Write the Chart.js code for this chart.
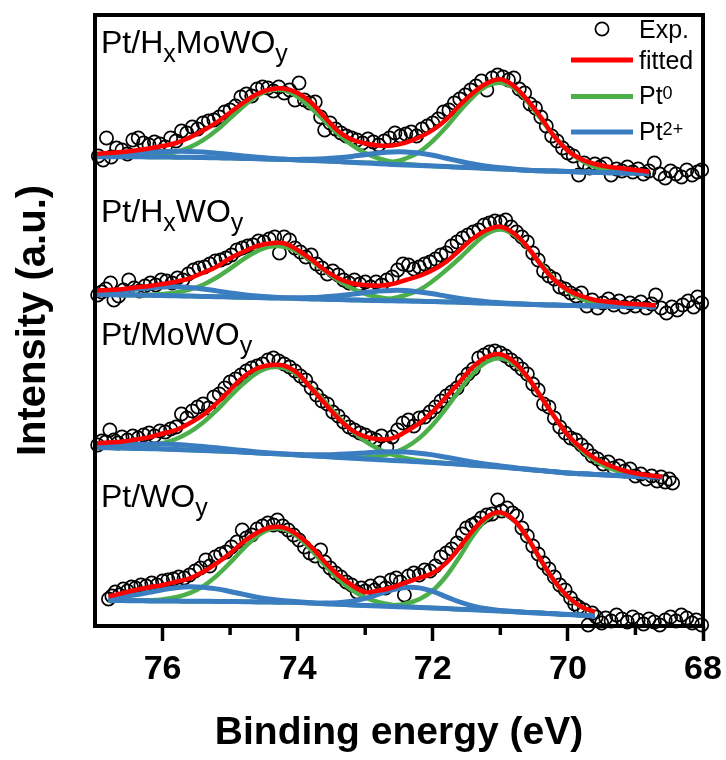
<!DOCTYPE html>
<html>
<head>
<meta charset="utf-8">
<script src="https://cdn.jsdelivr.net/npm/chart.js@4.4.1/dist/chart.umd.min.js"></script>
<style>
  html, body { margin: 0; padding: 0; background: #fff; }
  #wrap { width: 726px; height: 760px; }
</style>
</head>
<body>
<div id="wrap"><canvas id="c" width="726" height="760"></canvas></div>
<script>
// ---------------- data (binding energy in eV, intensity in a.u. with stacking offsets) ----------------
const xTickValues = [68, 70, 72, 74, 76];
const minorTickValues = [69, 71, 73, 75];
const legendNames = ['Exp.', 'fitted', 'Pt', 'Pt'];
const legendSups = ['', '', '0', '2+'];
const sampleNames = [
  [['Pt/H', 0], ['x', -1], ['MoWO', 0], ['y', -1]],
  [['Pt/H', 0], ['x', -1], ['WO', 0], ['y', -1]],
  [['Pt/MoWO', 0], ['y', -1]],
  [['Pt/WO', 0], ['y', -1]]
];
const sampleLabelY = [573, 404, 281, 119];

// ---- panel 1 : Pt/HxMoWOy ----
const p1Energy = [77.0,76.8,76.6,76.4,76.2,76.0,75.8,75.6,75.4,75.2,75.0,74.8,74.6,74.4,74.2,74.0,73.8,73.6,73.4,73.2,73.0,72.8,72.6,72.4,72.2,72.0,71.8,71.6,71.4,71.2,71.0,70.8,70.6,70.4,70.2,70.0,69.8,69.6,69.4,69.2,69.0,68.8];
const p1Fitted = [472,473,474,475.5,477.5,480,483,488.5,495.5,503.5,513.5,523.5,532,536.7,537.5,533,523.5,509,495,486.5,482.7,480.4,480.5,483.3,488.7,496,506.7,521,533.3,542.7,546.7,540,526,508.7,489.3,475.3,466.7,462,459.3,457.7,456,454.3];
const p1Pt0a = [469.3,469.3,469.2,469.6,470.2,471.5,474.0,478.6,485.9,495.7,507.8,520.0,530.3,536.0,535.6,529.1,517.9,504.8,491.9,481.1,472.9,467.5,464.1,462.1,460.9,460.0,459.4,458.8,458.2,457.6,457.0,456.4,455.8,455.2,454.9,454.5,454.1,453.7,453.3,453.1,453.0,452.7];
const p1Pt0b = [469.3,469.3,469.2,469.2,469.1,469.0,468.8,468.7,468.5,468.2,468.0,467.6,467.2,466.8,466.4,466.0,465.5,465.0,464.4,463.7,463.3,463.0,464.0,467.5,474.0,485.0,499.0,515.0,529.5,540.0,543.3,538.0,524.6,507.1,489.8,475.5,465.3,459.1,455.6,454.0,453.3,452.8];
const p1Pt2a = [470.3,470.9,471.7,472.7,473.7,474.4,474.7,474.6,473.9,472.8,471.5,470.1,468.8,467.8,466.9,466.0,465.5,465.0,464.4,463.7,463.0,462.3,461.6,461.0,460.5,460.0,459.4,458.8,458.2,457.6,457.0,456.4,455.8,455.2,454.9,454.5,454.1,453.7,453.3,453.1,453.0,452.7];
const p1Pt2b = [469.3,469.3,469.2,469.2,469.1,469.0,468.8,468.7,468.5,468.2,468.0,467.6,467.2,466.8,466.4,466.6,466.7,467.2,468.2,469.6,471.3,473.0,474.0,474.0,472.9,470.7,467.7,464.7,462.0,459.8,458.2,457.0,455.8,455.2,454.9,454.5,454.1,453.7,453.3,453.1,453.0,452.7];
const p1Exp = [[76.95,470],[76.88,466],[76.83,488],[76.76,469],[76.68,478],[76.6,476],[76.52,472],[76.44,486],[76.36,488],[76.28,483],[76.2,481],[76.12,484],[76.04,482],[75.96,479],[75.88,488],[75.8,485],[75.72,495],[75.64,493],[75.56,499],[75.48,497],[75.4,503],[75.32,505],[75.24,506],[75.16,509],[75.08,514],[75.0,516],[74.92,520],[74.84,529],[74.76,532],[74.68,530],[74.6,537],[74.52,539],[74.44,538],[74.36,535],[74.28,539],[74.2,533],[74.12,536],[74.04,526],[73.98,543],[73.9,526],[73.82,523],[73.74,524],[73.66,509],[73.6,496],[73.52,503],[73.44,497],[73.36,493],[73.28,490],[73.2,488],[73.12,486],[73.04,483],[72.96,487],[72.88,484],[72.8,481],[72.72,485],[72.64,488],[72.56,493],[72.48,490],[72.4,492],[72.32,494],[72.24,490],[72.16,497],[72.08,500],[72.0,503],[71.92,507],[71.84,514],[71.76,516],[71.68,523],[71.6,527],[71.52,531],[71.44,536],[71.36,540],[71.28,545],[71.2,536],[71.12,548],[71.04,551],[70.96,549],[70.88,546],[70.8,548],[70.72,537],[70.64,533],[70.56,522],[70.48,518],[70.4,509],[70.32,500],[70.24,490],[70.16,485],[70.08,478],[70.0,473],[69.92,470],[69.84,451],[69.76,463],[69.68,458],[69.6,462],[69.52,459],[69.44,462],[69.36,451],[69.28,457],[69.2,455],[69.12,459],[69.04,454],[68.96,457],[68.88,452],[68.8,455],[68.72,463],[68.64,452],[68.56,448],[68.48,455],[68.4,452],[68.32,449],[68.24,456],[68.16,451],[68.08,454],[68.02,456]];

// ---- panel 2 : Pt/HxWOy ----
const p2Energy = [77.0,76.8,76.6,76.4,76.2,76.0,75.8,75.6,75.4,75.2,75.0,74.8,74.6,74.4,74.2,74.0,73.8,73.6,73.4,73.2,73.0,72.8,72.6,72.4,72.2,72.0,71.8,71.6,71.4,71.2,71.0,70.8,70.6,70.4,70.2,70.0,69.8,69.6,69.4,69.2,69.0,68.8,68.7];
const p2Fitted = [335.3,336,336.7,338.5,340,342,344.3,347.7,353.3,359.3,367.7,374.3,380,382.7,382.7,376,366.7,356,347.7,342.7,341,340.3,342,346,350,356,364.3,376,387.7,396,399.3,392.7,379.3,361,346,336,330,326,324.3,322.7,322,321,320.8];
const p2Pt0a = [331.5,331.3,331.1,331.1,331.3,332.0,333.5,336.4,341.3,348.5,357.4,366.9,374.9,379.5,379.2,374.0,365.3,355.2,345.6,337.8,332.2,328.8,326.7,325.6,324.9,324.5,324.1,323.7,323.3,322.9,322.5,322.1,321.7,321.3,320.9,320.5,320.3,320.1,319.9,319.7,319.5,319.4,319.3];
const p2Pt0b = [331.5,331.3,331.1,330.9,330.7,330.5,330.2,329.9,329.6,329.3,329.0,328.7,328.4,328.1,327.8,327.5,327.1,326.8,326.4,326.1,325.7,326.2,327.5,331.0,336.0,345.0,356.0,368.0,381.0,392.2,396.5,391.4,378.6,362.3,346.8,334.9,327.3,323.1,321.0,320.1,319.7,319.5,319.4];
const p2Pt2a = [333.0,333.9,335.2,336.7,338.1,339.1,339.2,338.5,337.0,335.1,333.1,331.3,329.9,328.9,328.2,327.5,327.1,326.8,326.4,326.1,325.7,325.5,325.2,325.0,324.7,324.5,324.1,323.7,323.3,322.9,322.5,322.1,321.7,321.3,320.9,320.5,320.3,320.1,319.9,319.7,319.5,319.4,319.3];
const p2Pt2b = [331.5,331.3,331.1,330.9,330.7,330.5,330.2,329.9,329.6,329.3,329.0,328.7,328.4,328.1,328.1,328.2,328.4,329.2,330.3,331.8,333.4,334.9,335.6,335.4,334.1,332.2,329.8,327.6,325.7,324.2,323.2,322.4,321.7,321.3,320.9,320.5,320.3,320.1,319.9,319.7,319.5,319.4,319.3];
const p2Exp = [[76.96,331],[76.9,334],[76.84,337],[76.77,343],[76.72,326],[76.65,330],[76.58,336],[76.5,346],[76.42,338],[76.34,335],[76.26,340],[76.18,343],[76.1,341],[76.02,346],[75.94,345],[75.86,343],[75.78,348],[75.7,346],[75.62,352],[75.54,356],[75.46,358],[75.38,359],[75.3,362],[75.22,365],[75.14,366],[75.06,368],[74.98,371],[74.9,376],[74.82,378],[74.74,380],[74.66,381],[74.58,385],[74.5,384],[74.42,387],[74.34,389],[74.27,373],[74.2,389],[74.12,386],[74.04,378],[73.96,374],[73.88,369],[73.8,371],[73.72,362],[73.64,358],[73.56,352],[73.48,355],[73.4,351],[73.32,346],[73.24,343],[73.16,346],[73.08,342],[73.0,344],[72.92,339],[72.84,344],[72.76,341],[72.68,346],[72.6,349],[72.52,356],[72.44,362],[72.36,361],[72.28,357],[72.2,359],[72.12,362],[72.04,364],[71.96,367],[71.88,371],[71.8,373],[71.72,380],[71.64,384],[71.56,388],[71.48,391],[71.4,394],[71.32,396],[71.24,401],[71.16,403],[71.08,405],[71.0,404],[70.92,406],[70.84,399],[70.76,394],[70.68,389],[70.6,384],[70.52,373],[70.44,366],[70.36,355],[70.28,350],[70.2,347],[70.12,339],[70.04,337],[69.96,333],[69.88,330],[69.8,333],[69.72,320],[69.64,326],[69.56,318],[69.48,323],[69.4,327],[69.32,321],[69.24,325],[69.16,319],[69.08,323],[69.0,320],[68.92,324],[68.84,318],[68.76,322],[68.7,331],[68.62,318],[68.54,313],[68.46,319],[68.38,316],[68.3,321],[68.22,325],[68.14,319],[68.08,329],[68.02,323]];

// ---- panel 3 : Pt/MoWOy ----
const p3Energy = [77.0,76.8,76.6,76.4,76.2,76.0,75.8,75.6,75.4,75.2,75.0,74.8,74.6,74.4,74.2,74.0,73.8,73.6,73.4,73.2,73.0,72.8,72.6,72.4,72.2,72.0,71.8,71.6,71.4,71.2,71.0,70.8,70.6,70.4,70.2,70.0,69.8,69.6,69.4,69.2,69.0,68.8,68.6];
const p3Fitted = [182.7,183.5,184.3,186.5,188.7,192.5,196,202.7,211,222.7,236,249.3,257.7,261,260.3,252.7,237.7,222.7,207.7,196,189.3,186.7,187.7,194.3,202.7,214.3,229.3,244.3,259.3,269.3,271.7,264.3,249.3,229.3,209.3,191,177.7,167.7,161,156,152.7,150.7,149.3];
const p3Pt0a = [178.5,178.5,178.5,179.0,180.2,182.8,187.0,193.8,203.5,215.7,229.5,242.6,253.1,258.6,257.9,251.0,239.0,224.4,209.3,195.8,184.8,176.8,171.4,167.8,165.6,164.1,162.9,161.7,160.8,159.9,159.0,157.8,156.6,155.4,154.2,153.0,152.3,151.6,150.9,150.2,149.5,149.3,149.0];
const p3Pt0b = [178.5,178.2,177.9,177.6,177.3,177.0,176.5,176.0,175.5,175.0,174.5,173.8,173.1,172.4,171.7,171.0,170.2,169.4,168.9,168.5,168.6,169.8,172.9,178.6,187.9,201.3,217.9,236.1,252.7,264.1,267.7,262.0,248.5,229.8,209.5,190.8,176.0,165.3,158.2,153.7,151.1,149.9,149.25];
const p3Pt2a = [180.1,180.5,181.1,181.6,181.9,182.0,181.5,180.6,179.5,178.2,176.8,175.4,174.1,173.0,172.0,171.0,170.2,169.4,168.6,167.8,167.0,166.3,165.6,164.9,164.2,163.5,162.6,161.7,160.8,159.9,159.0,157.8,156.6,155.4,154.2,153.0,152.3,151.6,150.9,150.2,149.5,149.3,149.0];
const p3Pt2b = [178.5,178.2,177.9,177.6,177.3,177.0,176.5,176.0,175.5,175.0,174.5,173.8,173.1,172.4,172.0,171.6,171.3,171.3,171.7,172.3,173.1,173.9,174.2,173.9,172.8,171.1,168.7,166.2,163.9,161.8,160.1,158.4,156.9,155.4,154.2,153.0,152.3,151.6,150.9,150.2,149.5,149.3,149.0];
const p3Exp = [[76.96,181],[76.9,185],[76.84,184],[76.78,196],[76.72,186],[76.66,183],[76.6,189],[76.52,186],[76.44,190],[76.36,188],[76.28,191],[76.2,193],[76.12,190],[76.04,195],[75.96,194],[75.88,197],[75.8,199],[75.72,212],[75.64,208],[75.56,215],[75.48,219],[75.4,222],[75.32,218],[75.24,229],[75.16,232],[75.08,238],[75.0,244],[74.92,247],[74.84,251],[74.76,255],[74.68,258],[74.6,260],[74.52,262],[74.44,266],[74.36,268],[74.28,265],[74.2,262],[74.12,259],[74.04,255],[73.96,250],[73.88,246],[73.8,238],[73.72,231],[73.64,225],[73.56,222],[73.48,214],[73.4,210],[73.32,204],[73.24,199],[73.16,196],[73.08,193],[73.0,191],[72.92,188],[72.84,186],[72.76,190],[72.68,179],[72.6,189],[72.52,196],[72.44,203],[72.36,206],[72.28,200],[72.2,208],[72.12,209],[72.04,214],[71.96,219],[71.88,225],[71.8,230],[71.72,234],[71.64,238],[71.56,246],[71.48,252],[71.4,257],[71.32,268],[71.24,271],[71.16,274],[71.08,275],[71.0,273],[70.92,270],[70.84,266],[70.76,262],[70.68,257],[70.6,252],[70.52,242],[70.44,236],[70.36,222],[70.28,219],[70.2,208],[70.12,199],[70.04,193],[69.96,188],[69.88,186],[69.8,181],[69.72,176],[69.64,170],[69.56,167],[69.48,162],[69.4,164],[69.32,158],[69.24,160],[69.16,155],[69.08,157],[69.0,150],[68.92,152],[68.84,147],[68.76,150],[68.68,145],[68.62,149],[68.56,144],[68.5,147],[68.45,143]];

// ---- panel 4 : Pt/WOy ----
const p4Energy = [76.8,76.6,76.4,76.2,76.0,75.8,75.6,75.4,75.2,75.0,74.8,74.6,74.4,74.2,74.0,73.8,73.6,73.4,73.2,73.0,72.8,72.6,72.4,72.2,72.0,71.8,71.6,71.4,71.2,71.0,70.8,70.6,70.4,70.2,70.0,69.8,69.6];
const p4Fitted = [29.5,32.7,36,38.7,41,44.3,47.7,54.3,62.7,72.7,84.3,93.3,98.7,98.3,91,79.3,64.3,51,41,34,35.5,38.5,43.5,48,53,63,79,96,109,113.6,106,88.5,66,45,29.3,19.2,14.2];
const p4Pt0a = [25.5,25.4,25.45,25.7,26.6,28.7,32.8,39.7,50.1,63.3,77.5,89.8,96.9,96.7,89.2,76.1,61.1,47.2,36.1,28.5,23.8,21.1,19.6,18.7,18.0,17.4,16.8,16.2,15.6,15.0,14.3,13.6,12.9,12.2,11.5,10.8,10.0];
const p4Pt0b = [25.5,25.4,25.25,25.1,25.0,24.9,24.8,24.7,24.6,24.5,24.3,24.1,23.9,23.7,23.5,22.9,22.3,21.7,21.1,20.5,20.4,20.7,22.4,26.7,35.5,50.0,69.6,90.7,107.1,113.0,105.8,88.1,65.7,44.8,29.0,19.0,13.9];
const p4Pt2a = [27.6,29.1,31.25,33.7,36.3,38.3,39.3,38.8,37.1,34.5,31.6,28.9,26.7,25.2,24.3,23.2,22.3,21.7,21.1,20.5,20.0,19.5,19.0,18.5,18.0,17.4,16.8,16.2,15.6,15.0,14.3,13.6,12.9,12.2,11.5,10.8,10.0];
const p4Pt2b = [25.5,25.4,25.25,25.1,25.0,24.9,24.8,24.7,24.6,24.5,24.3,24.1,23.9,23.7,23.5,22.9,22.9,23.3,24.8,27.7,31.8,36.1,38.6,38.1,34.6,29.2,24.0,19.9,17.2,15.6,14.5,13.6,12.9,12.2,11.5,10.8,10.0];
const p4Exp = [[76.8,27],[76.75,30],[76.7,34],[76.64,31],[76.58,37],[76.52,35],[76.46,39],[76.4,38],[76.32,41],[76.24,40],[76.16,43],[76.08,41],[76.0,45],[75.92,46],[75.84,47],[75.76,49],[75.68,48],[75.6,51],[75.52,55],[75.44,58],[75.36,66],[75.3,60],[75.22,69],[75.14,72],[75.06,74],[74.98,79],[74.9,84],[74.82,96],[74.76,88],[74.68,91],[74.6,97],[74.52,100],[74.44,103],[74.36,101],[74.3,106],[74.22,100],[74.14,96],[74.06,91],[73.98,86],[73.9,79],[73.82,73],[73.74,70],[73.66,76],[73.6,64],[73.52,58],[73.44,53],[73.36,49],[73.28,44],[73.2,41],[73.12,34],[73.06,38],[73.0,35],[72.92,40],[72.86,36],[72.78,43],[72.7,38],[72.62,46],[72.54,48],[72.48,44],[72.42,31],[72.36,50],[72.28,53],[72.2,51],[72.12,56],[72.04,55],[71.96,60],[71.88,69],[71.8,73],[71.72,77],[71.64,83],[71.56,92],[71.5,98],[71.42,101],[71.36,103],[71.28,108],[71.2,111],[71.12,112],[71.04,126],[70.98,115],[70.9,118],[70.82,113],[70.76,110],[70.68,98],[70.6,90],[70.52,80],[70.44,72],[70.36,63],[70.28,57],[70.2,49],[70.12,41],[70.04,36],[69.96,28],[69.9,22],[69.84,19],[69.76,16],[69.7,1],[69.64,13],[69.58,9],[69.5,3],[69.44,8],[69.36,5],[69.28,11],[69.2,7],[69.12,4],[69.04,9],[68.96,6],[68.88,2],[68.8,7],[68.72,4],[68.64,1],[68.56,6],[68.48,9],[68.4,5],[68.32,11],[68.24,8],[68.16,3],[68.1,6],[68.02,1]];

// ---------------- styling ----------------
const RED = '#FF0000', GREEN = '#4DAF4A', BLUE = '#3A7DC0';
const FONT = "'Liberation Sans', Arial, Helvetica, sans-serif";

function series(E, V) { return E.map((e, i) => ({ x: e, y: V[i] })); }
function pairs(P) { return P.map(p => ({ x: p[0], y: p[1] })); }

const panels = [
  { E: p1Energy, fit: p1Fitted, a0: p1Pt0a, b0: p1Pt0b, a2: p1Pt2a, b2: p1Pt2b, exp: p1Exp },
  { E: p2Energy, fit: p2Fitted, a0: p2Pt0a, b0: p2Pt0b, a2: p2Pt2a, b2: p2Pt2b, exp: p2Exp },
  { E: p3Energy, fit: p3Fitted, a0: p3Pt0a, b0: p3Pt0b, a2: p3Pt2a, b2: p3Pt2b, exp: p3Exp },
  { E: p4Energy, fit: p4Fitted, a0: p4Pt0a, b0: p4Pt0b, a2: p4Pt2a, b2: p4Pt2b, exp: p4Exp }
];

const lineBase = { type: 'line', pointRadius: 0, fill: false, tension: 0.4, borderCapStyle: 'butt', borderJoinStyle: 'round' };
const datasets = [];
panels.forEach((p, k) => {
  datasets.push({ type: 'scatter', label: 'Exp.', data: pairs(p.exp), showLine: false,
    pointRadius: 6.6, pointHoverRadius: 6.6, pointBorderWidth: 1.7, pointBorderColor: '#000',
    pointBackgroundColor: 'rgba(0,0,0,0)', clip: false, order: 10 });
  datasets.push(Object.assign({}, lineBase, { label: 'Pt0', data: series(p.E, p.a0), borderColor: GREEN, borderWidth: 4.5, order: 4 }));
  datasets.push(Object.assign({}, lineBase, { label: 'Pt0', data: series(p.E, p.b0), borderColor: GREEN, borderWidth: 4.5, order: 4 }));
  datasets.push(Object.assign({}, lineBase, { label: 'Pt2+', data: series(p.E, p.a2), borderColor: BLUE, borderWidth: 5, order: 3 }));
  datasets.push(Object.assign({}, lineBase, { label: 'Pt2+', data: series(p.E, p.b2), borderColor: BLUE, borderWidth: 5, order: 3 }));
  datasets.push(Object.assign({}, lineBase, { label: 'fitted', data: series(p.E, p.fit), borderColor: RED, borderWidth: 4.5, order: 1 }));
});

function drawRich(ctx, x, y, segs, size, subSize, subDy) {
  let cx = x;
  segs.forEach(([t, kind]) => {
    if (kind === 0) { ctx.font = size + 'px ' + FONT; ctx.fillText(t, cx, y); }
    else if (kind === -1) { ctx.font = subSize + 'px ' + FONT; ctx.fillText(t, cx, y + subDy); }
    else { ctx.font = subSize + 'px ' + FONT; ctx.fillText(t, cx, y - subDy); }
    cx += ctx.measureText(t).width;
  });
}

const decorations = {
  id: 'decorations',
  afterDraw(chart) {
    const { ctx, chartArea: a, scales } = chart;
    const xs = scales.x, ys = scales.y;
    ctx.save();
    // minor ticks
    ctx.strokeStyle = '#000';
    ctx.lineWidth = 3.5;
    minorTickValues.forEach(v => {
      const px = xs.getPixelForValue(v);
      ctx.beginPath(); ctx.moveTo(px, a.bottom); ctx.lineTo(px, a.bottom + 9); ctx.stroke();
    });
    // frame
    ctx.lineWidth = 4;
    ctx.strokeRect(a.left, a.top, a.right - a.left, a.bottom - a.top);
    // sample labels
    ctx.fillStyle = '#000';
    ctx.textBaseline = 'alphabetic';
    ctx.textAlign = 'left';
    sampleNames.forEach((segs, i) => {
      drawRich(ctx, a.left + 6, ys.getPixelForValue(sampleLabelY[i]), segs, 32, 25, 8.5);
    });
    // legend
    const lx0 = a.right - 132, lx1 = a.right - 70, tx = a.right - 64;
    const rows = [a.top + 14, a.top + 45, a.top + 81.5, a.top + 117];
    const base = [a.top + 22.5, a.top + 53.5, a.top + 89, a.top + 125];
    ctx.lineWidth = 1.7;
    ctx.beginPath(); ctx.arc((lx0 + lx1) / 2, rows[0], 6.6, 0, Math.PI * 2); ctx.stroke();
    [RED, GREEN, BLUE].forEach((c, i) => {
      ctx.strokeStyle = c; ctx.lineWidth = 5; ctx.lineCap = 'butt';
      ctx.beginPath(); ctx.moveTo(lx0, rows[i + 1]); ctx.lineTo(lx1, rows[i + 1]); ctx.stroke();
    });
    ctx.fillStyle = '#000';
    legendNames.forEach((n, i) => {
      const segs = [[n, 0]];
      if (legendSups[i]) segs.push([legendSups[i], 1]);
      drawRich(ctx, tx, base[i], segs, 25, 18, 5);
    });
    ctx.restore();
  }
};

Chart.defaults.font.family = FONT;
Chart.defaults.color = '#000';

new Chart(document.getElementById('c'), {
  type: 'line',
  data: { datasets },
  options: {
    responsive: false,
    devicePixelRatio: 1,
    animation: false,
    layout: { padding: { left: 10, top: 15, right: 23, bottom: 0 } },
    plugins: { legend: { display: false }, tooltip: { enabled: false } },
    scales: {
      x: {
        type: 'linear', min: 68, max: 77, reverse: true,
        afterBuildTicks: s => { s.ticks = xTickValues.map(v => ({ value: v })); },
        ticks: { font: { size: 34, weight: 'bold' }, color: '#000', padding: 8.6, maxRotation: 0, autoSkip: false },
        grid: { display: true, drawOnChartArea: false, drawTicks: true, tickLength: 15, tickWidth: 3.5, tickColor: '#000' },
        border: { display: false },
        title: { display: true, text: 'Binding energy (eV)', font: { size: 39, weight: 'bold' }, color: '#000', padding: { top: 10.6, bottom: 3.6 } }
      },
      y: {
        type: 'linear', min: 0, max: 611,
        ticks: { display: false },
        grid: { display: false, drawTicks: false },
        border: { display: false },
        title: { display: true, text: 'Intensity (a.u.)', font: { size: 40, weight: 'bold' }, color: '#000', padding: { top: 0, bottom: 37 } }
      }
    }
  },
  plugins: [decorations]
});
</script>
</body>
</html>
